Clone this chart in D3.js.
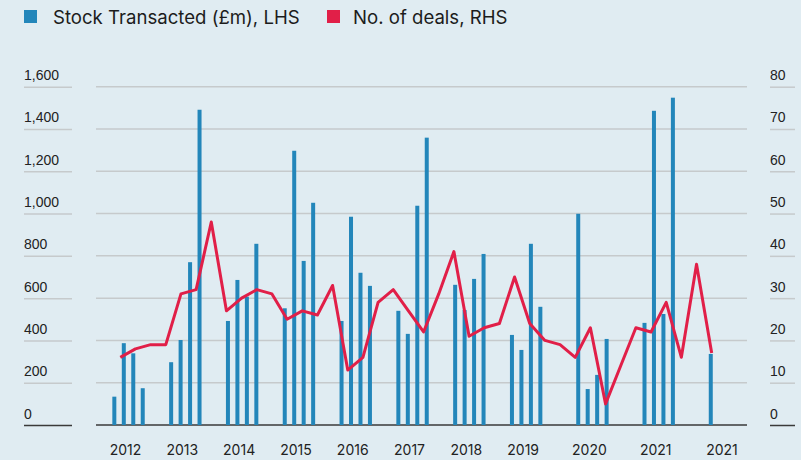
<!DOCTYPE html>
<html>
<head>
<meta charset="utf-8">
<script src="https://cdn.jsdelivr.net/npm/d3@7"></script>
<style>
	body { margin: 0; background: #e0ecf2; }
	svg { display: block; font-family: Inter, "Noto Sans", sans-serif; }
	.tick-label { font-size: 14px; fill: #222; }
	.legend-text { font-size: 18.6px; fill: #1c1c1c; }
</style>
</head>
<body>
<div id="chart"></div>
<script>
// chart data
// bar categories (blank slots are the gaps between years)
var barPeriods = [
	"Q1 2012", "Q2 2012", "Q3 2012", "Q4 2012", "", "",
	"Q1 2013", "Q2 2013", "Q3 2013", "Q4 2013", "", "",
	"Q1 2014", "Q2 2014", "Q3 2014", "Q4 2014", "", "",
	"Q1 2015", "Q2 2015", "Q3 2015", "Q4 2015", "", "",
	"Q1 2016", "Q2 2016", "Q3 2016", "Q4 2016", "", "",
	"Q1 2017", "Q2 2017", "Q3 2017", "Q4 2017", "", "",
	"Q1 2018", "Q2 2018", "Q3 2018", "Q4 2018", "", "",
	"Q1 2019", "Q2 2019", "Q3 2019", "Q4 2019", "", "", "",
	"Q1 2020", "Q2 2020", "Q3 2020", "Q4 2020", "", "", "",
	"Q1 2021", "Q2 2021", "Q3 2021", "Q4 2021", "", "", "",
	"Q1 2022", "Q2 2022", "Q3 2022", "Q4 2022"
];

// stock transacted (£m), LHS
var stockTransacted = [
	134, 387, 339, 174, null, null,
	297, 402, 770, 1491, null, null,
	492, 686, 607, 857, null, null,
	552, 1297, 776, 1051, null, null,
	492, 985, 720, 658, null, null,
	540, 431, 1037, 1359, null, null,
	663, 544, 691, 809, null, null,
	426, 355, 857, 559, null, null, null,
	999, 170, 237, 407, null, null, null,
	483, 1486, 525, 1548, null, null, null,
	336, null, null, null
];

// no. of deals, RHS (quarterly)
var dealQuarters = [
	"2012 Q1", "2012 Q2", "2012 Q3", "2012 Q4",
	"2013 Q1", "2013 Q2", "2013 Q3", "2013 Q4",
	"2014 Q1", "2014 Q2", "2014 Q3", "2014 Q4",
	"2015 Q1", "2015 Q2", "2015 Q3", "2015 Q4",
	"2016 Q1", "2016 Q2", "2016 Q3", "2016 Q4",
	"2017 Q1", "2017 Q2", "2017 Q3", "2017 Q4",
	"2018 Q1", "2018 Q2", "2018 Q3", "2018 Q4",
	"2019 Q1", "2019 Q2", "2019 Q3", "2019 Q4",
	"2020 Q1", "2020 Q2", "2020 Q3", "2020 Q4",
	"2021 Q1", "2021 Q2", "2021 Q3", "2021 Q4"
];
var deals = [
	16, 18, 19, 19,
	31, 32, 48, 27,
	30, 32, 31, 25,
	27, 26, 33, 13,
	16, 29, 32, 27,
	22, 31, 41, 21,
	23, 24, 35, 24,
	20, 19, 16, 23,
	5, 14, 23, 22,
	29, 16, 38, 17
];

// tick labels (as printed)
var xLabels = ["2012", "2013", "2014", "2015", "2016", "2017", "2018", "2019", "2020", "2021", "2021"];
var leftTicks = [0, 200, 400, 600, 800, 1000, 1200, 1400, 1600];
var rightTicks = [0, 10, 20, 30, 40, 50, 60, 70, 80];

var legendItems = ["Stock Transacted (£m), LHS", "No. of deals, RHS"];

// magic numbers
var width = 801, height = 460;
var plot = {left: 96, right: 747, top: 86.7, bottom: 425};
var colors = {bar: "#2386ba", line: "#e11f48", grid: "#c6cacc", base: "#3a3a3a", bg: "#e0ecf2"};
var bar_width = 4;

var svg = d3.select("#chart").append("svg")
		.attr("width", width)
		.attr("height", height);

svg.append("rect")
		.attr("width", width)
		.attr("height", height)
		.attr("fill", colors.bg);

// scales
var yLeft = d3.scaleLinear()
		.domain([0, 1600])
		.range([plot.bottom, plot.top]);

var yRight = d3.scaleLinear()
		.domain([0, 80])
		.range([plot.bottom, plot.top]);

var xBar = d3.scaleBand()
		.domain(d3.range(barPeriods.length))
		.range([109.6, 743.9]);

var xLine = d3.scalePoint()
		.domain(dealQuarters)
		.range([120.3, 711.7]);

// gridlines
svg.append("g")
		.attr("class", "grid")
	.selectAll("line")
		.data(leftTicks)
	.enter().append("line")
		.attr("x1", plot.left)
		.attr("x2", plot.right)
		.attr("y1", function(d){ return yLeft(d); })
		.attr("y2", function(d){ return yLeft(d); })
		.attr("stroke", function(d){ return d == 0 ? colors.base : colors.grid; })
		.attr("stroke-width", 1.5);

// left axis, labels sit above short rules
var yAxisLeft = d3.axisRight(yLeft)
		.tickValues(leftTicks)
		.tickSize(48)
		.tickFormat(d3.format(","));

var gLeft = svg.append("g")
		.attr("class", "y axis left")
		.attr("transform", "translate(24,0)")
		.call(yAxisLeft);

var yAxisRight = d3.axisRight(yRight)
		.tickValues(rightTicks)
		.tickSize(25);

var gRight = svg.append("g")
		.attr("class", "y axis right")
		.attr("transform", "translate(770,0)")
		.call(yAxisRight);

[gLeft, gRight].forEach(function(g){
	g.select(".domain").remove();
	g.selectAll(".tick line")
			.attr("stroke", function(d){ return d == 0 ? colors.base : colors.grid; })
			.attr("stroke-width", 1.5);
	g.selectAll(".tick text")
			.attr("class", "tick-label")
			.attr("x", 0)
			.attr("y", -7)
			.attr("dy", 0)
			.attr("text-anchor", "start")
			.attr("fill", "#222");
});

// bars
var barData = stockTransacted.map(function(v, i){ return {i: i, period: barPeriods[i], value: v}; })
		.filter(function(d){ return d.value != null; });

svg.append("g")
		.attr("class", "bars")
	.selectAll("rect")
		.data(barData)
	.enter().append("rect")
		.attr("x", function(d){ return xBar(d.i) + xBar.bandwidth() / 2 - bar_width / 2; })
		.attr("y", function(d){ return yLeft(d.value); })
		.attr("width", bar_width)
		.attr("height", function(d){ return yLeft(0) - yLeft(d.value); })
		.attr("fill", colors.bar);

// year labels, centred under each group of quarters
var yearGroups = d3.groups(
		d3.range(barPeriods.length).filter(function(i){ return barPeriods[i] != ""; }),
		function(i){ return barPeriods[i].slice(-4); });

svg.append("g")
		.attr("class", "x axis")
	.selectAll("text")
		.data(yearGroups)
	.enter().append("text")
		.attr("class", "tick-label")
		.attr("x", function(d){ return d3.mean(d[1], function(i){ return xBar(i) + xBar.bandwidth() / 2; }) - 3; })
		.attr("y", 455)
		.attr("text-anchor", "middle")
		.text(function(d, i){ return xLabels[i]; });

// deals line
var line = d3.line()
		.x(function(d, i){ return xLine(dealQuarters[i]); })
		.y(function(d){ return yRight(d); });

svg.append("path")
		.datum(deals)
		.attr("class", "deals-line")
		.attr("fill", "none")
		.attr("stroke", colors.line)
		.attr("stroke-width", 3)
		.attr("stroke-linejoin", "round")
		.attr("d", line);

// legend
var legend = svg.append("g")
		.attr("class", "legend");

var legendX = [24, 327];
var legendTextX = [53, 353];
var legendColors = [colors.bar, colors.line];

legend.selectAll("rect")
		.data(legendItems)
	.enter().append("rect")
		.attr("x", function(d, i){ return legendX[i]; })
		.attr("y", 10)
		.attr("width", 13)
		.attr("height", 13)
		.attr("fill", function(d, i){ return legendColors[i]; });

legend.selectAll("text")
		.data(legendItems)
	.enter().append("text")
		.attr("class", "legend-text")
		.attr("x", function(d, i){ return legendTextX[i]; })
		.attr("y", 23.5)
		.text(function(d){ return d; });
</script>
</body>
</html>
